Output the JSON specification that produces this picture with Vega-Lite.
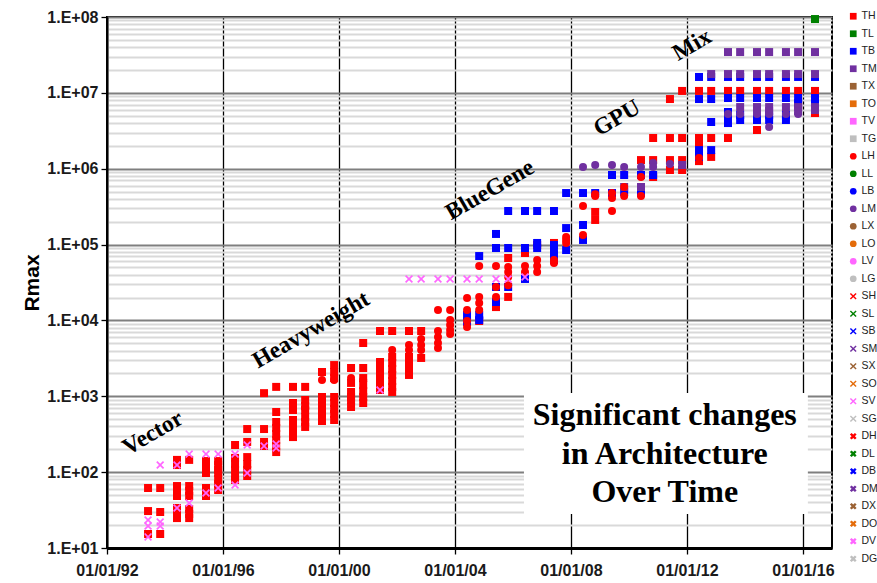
{
"$schema":"https://vega.github.io/schema/vega-lite/v6.json",
"width":725,"height":531,"autosize":"none",
"padding":{"left":107,"top":17,"right":45,"bottom":35},
"background":"white",
"config":{"view":{"stroke":"black","strokeWidth":2}},
"datasets":{
"box":[{"x1":"2006-05-19","x2":"2016-03-03","y1":1104,"y2":28.1}],
"note":[{"text":"Significant changes\nin Architecture\nOver Time","date":"2011-03-28","rmax":418}],
"eras":[{"label":"Vector","date":"1993-08-01","rmax":328},{"label":"Heavyweight","date":"1999-01-13","rmax":7480},{"label":"BlueGene","date":"2005-03-17","rmax":523000},{"label":"GPU","date":"2009-08-01","rmax":4660000},{"label":"Mix","date":"2012-03-04","rmax":42700000}],
"pts":[
{"date":"1993-06-01","cat":"TH","rmax":61.8},{"date":"1993-06-01","cat":"TH","rmax":30.7},{"date":"1993-06-01","cat":"TH","rmax":15.3},
{"date":"1993-11-01","cat":"TH","rmax":61.8},{"date":"1993-11-01","cat":"TH","rmax":29.8},{"date":"1993-11-01","cat":"TH","rmax":15.3},
{"date":"1994-06-01","cat":"TH","rmax":145},{"date":"1994-06-01","cat":"TH","rmax":124},{"date":"1994-06-01","cat":"TH","rmax":65.6},{"date":"1994-06-01","cat":"TH","rmax":56.4},{"date":"1994-06-01","cat":"TH","rmax":48.5},{"date":"1994-06-01","cat":"TH","rmax":33.7},{"date":"1994-06-01","cat":"TH","rmax":28.9},{"date":"1994-06-01","cat":"TH","rmax":24.8},
{"date":"1994-11-01","cat":"TH","rmax":145},{"date":"1994-11-01","cat":"TH","rmax":65.6},{"date":"1994-11-01","cat":"TH","rmax":56.4},{"date":"1994-11-01","cat":"TH","rmax":48.5},{"date":"1994-11-01","cat":"TH","rmax":32.7},{"date":"1994-11-01","cat":"TH","rmax":28.1},{"date":"1994-11-01","cat":"TH","rmax":24.8},
{"date":"1995-06-01","cat":"TH","rmax":140},{"date":"1995-06-01","cat":"TH","rmax":117},{"date":"1995-06-01","cat":"TH","rmax":107},{"date":"1995-06-01","cat":"TH","rmax":97.4},{"date":"1995-06-01","cat":"TH","rmax":61.8},{"date":"1995-06-01","cat":"TH","rmax":53.1},{"date":"1995-06-01","cat":"TH","rmax":48.5},
{"date":"1995-11-01","cat":"TH","rmax":140},{"date":"1995-11-01","cat":"TH","rmax":124},{"date":"1995-11-01","cat":"TH","rmax":107},{"date":"1995-11-01","cat":"TH","rmax":97.4},{"date":"1995-11-01","cat":"TH","rmax":81.2},{"date":"1995-11-01","cat":"TH","rmax":69.8},{"date":"1995-11-01","cat":"TH","rmax":58.1},
{"date":"1996-06-01","cat":"TH","rmax":228},{"date":"1996-06-01","cat":"TH","rmax":154},{"date":"1996-06-01","cat":"TH","rmax":128},{"date":"1996-06-01","cat":"TH","rmax":107},{"date":"1996-06-01","cat":"TH","rmax":88.9},{"date":"1996-06-01","cat":"TH","rmax":78.8},
{"date":"1996-11-01","cat":"TH","rmax":370},{"date":"1996-11-01","cat":"TH","rmax":250},{"date":"1996-11-01","cat":"TH","rmax":158},{"date":"1996-11-01","cat":"TH","rmax":128},{"date":"1996-11-01","cat":"TH","rmax":107},{"date":"1996-11-01","cat":"TH","rmax":88.9},
{"date":"1997-06-01","cat":"TH","rmax":1100},{"date":"1997-06-01","cat":"TH","rmax":370},{"date":"1997-06-01","cat":"TH","rmax":250},{"date":"1997-06-01","cat":"TH","rmax":221},
{"date":"1997-11-01","cat":"TH","rmax":1330},{"date":"1997-11-01","cat":"TH","rmax":621},{"date":"1997-11-01","cat":"TH","rmax":458},{"date":"1997-11-01","cat":"TH","rmax":382},{"date":"1997-11-01","cat":"TH","rmax":318},{"date":"1997-11-01","cat":"TH","rmax":265},{"date":"1997-11-01","cat":"TH","rmax":221},{"date":"1997-11-01","cat":"TH","rmax":184},
{"date":"1998-06-01","cat":"TH","rmax":1330},{"date":"1998-06-01","cat":"TH","rmax":815},{"date":"1998-06-01","cat":"TH","rmax":660},{"date":"1998-06-01","cat":"TH","rmax":487},{"date":"1998-06-01","cat":"TH","rmax":406},{"date":"1998-06-01","cat":"TH","rmax":338},{"date":"1998-06-01","cat":"TH","rmax":290},
{"date":"1998-11-01","cat":"TH","rmax":1330},{"date":"1998-11-01","cat":"TH","rmax":893},{"date":"1998-11-01","cat":"TH","rmax":744},{"date":"1998-11-01","cat":"TH","rmax":660},{"date":"1998-11-01","cat":"TH","rmax":533},{"date":"1998-11-01","cat":"TH","rmax":458},{"date":"1998-11-01","cat":"TH","rmax":394},
{"date":"1999-06-01","cat":"TH","rmax":2090},{"date":"1999-06-01","cat":"TH","rmax":978},{"date":"1999-06-01","cat":"TH","rmax":815},{"date":"1999-06-01","cat":"TH","rmax":680},{"date":"1999-06-01","cat":"TH","rmax":566},{"date":"1999-06-01","cat":"TH","rmax":472},
{"date":"1999-11-01","cat":"TH","rmax":2580},{"date":"1999-11-01","cat":"TH","rmax":2090},{"date":"1999-11-01","cat":"TH","rmax":1740},{"date":"1999-11-01","cat":"TH","rmax":978},{"date":"1999-11-01","cat":"TH","rmax":815},{"date":"1999-11-01","cat":"TH","rmax":680},{"date":"1999-11-01","cat":"TH","rmax":584},{"date":"1999-11-01","cat":"TH","rmax":487},
{"date":"2000-06-01","cat":"TH","rmax":2360},{"date":"2000-06-01","cat":"TH","rmax":1500},{"date":"2000-06-01","cat":"TH","rmax":1140},{"date":"2000-06-01","cat":"TH","rmax":978},{"date":"2000-06-01","cat":"TH","rmax":893},{"date":"2000-06-01","cat":"TH","rmax":722},
{"date":"2000-11-01","cat":"TH","rmax":5040},{"date":"2000-11-01","cat":"TH","rmax":2360},{"date":"2000-11-01","cat":"TH","rmax":1740},{"date":"2000-11-01","cat":"TH","rmax":1410},{"date":"2000-11-01","cat":"TH","rmax":1170},{"date":"2000-11-01","cat":"TH","rmax":978},{"date":"2000-11-01","cat":"TH","rmax":815},
{"date":"2001-06-01","cat":"TH","rmax":7250},{"date":"2001-06-01","cat":"TH","rmax":2830},{"date":"2001-06-01","cat":"TH","rmax":2360},{"date":"2001-06-01","cat":"TH","rmax":1970},{"date":"2001-06-01","cat":"TH","rmax":1640},{"date":"2001-06-01","cat":"TH","rmax":1370},{"date":"2001-06-01","cat":"TH","rmax":1210},
{"date":"2001-11-01","cat":"TH","rmax":7250},{"date":"2001-11-01","cat":"TH","rmax":3300},{"date":"2001-11-01","cat":"TH","rmax":2750},{"date":"2001-11-01","cat":"TH","rmax":2290},{"date":"2001-11-01","cat":"TH","rmax":1910},{"date":"2001-11-01","cat":"TH","rmax":1590},{"date":"2001-11-01","cat":"TH","rmax":1330},{"date":"2001-11-01","cat":"TH","rmax":1140},
{"date":"2002-06-01","cat":"TH","rmax":7250},{"date":"2002-06-01","cat":"TH","rmax":3300},{"date":"2002-06-01","cat":"TH","rmax":2750},{"date":"2002-06-01","cat":"TH","rmax":2290},{"date":"2002-06-01","cat":"TH","rmax":1910},
{"date":"2002-11-01","cat":"TH","rmax":7250},{"date":"2002-11-01","cat":"TH","rmax":3200},
{"date":"2004-11-01","cat":"TH","rmax":9820},{"date":"2005-06-01","cat":"TH","rmax":15000},{"date":"2005-11-01","cat":"TH","rmax":66500},{"date":"2005-11-01","cat":"TH","rmax":20400},
{"date":"2006-06-01","cat":"TH","rmax":77400},{"date":"2006-11-01","cat":"TH","rmax":98600},{"date":"2007-06-01","cat":"TH","rmax":105000},
{"date":"2008-11-01","cat":"TH","rmax":269000},{"date":"2008-11-01","cat":"TH","rmax":211000},
{"date":"2010-06-01","cat":"TH","rmax":1300000},
{"date":"2010-11-01","cat":"TH","rmax":2540000},{"date":"2010-11-01","cat":"TH","rmax":1300000},{"date":"2010-11-01","cat":"TH","rmax":778000},
{"date":"2011-06-01","cat":"TH","rmax":8290000},{"date":"2011-06-01","cat":"TH","rmax":2540000},{"date":"2011-06-01","cat":"TH","rmax":1300000},{"date":"2011-06-01","cat":"TH","rmax":962000},
{"date":"2011-11-01","cat":"TH","rmax":10600000},{"date":"2011-11-01","cat":"TH","rmax":2540000},{"date":"2011-11-01","cat":"TH","rmax":1300000},{"date":"2011-11-01","cat":"TH","rmax":962000},
{"date":"2012-06-01","cat":"TH","rmax":10600000},{"date":"2012-06-01","cat":"TH","rmax":2540000},{"date":"2012-06-01","cat":"TH","rmax":2050000},{"date":"2012-06-01","cat":"TH","rmax":1260000},
{"date":"2012-11-01","cat":"TH","rmax":10600000},{"date":"2012-11-01","cat":"TH","rmax":2540000},{"date":"2012-11-01","cat":"TH","rmax":1430000},
{"date":"2013-06-01","cat":"TH","rmax":10600000},{"date":"2013-06-01","cat":"TH","rmax":2540000},
{"date":"2013-11-01","cat":"TH","rmax":10600000},
{"date":"2014-06-01","cat":"TH","rmax":10600000},{"date":"2014-06-01","cat":"TH","rmax":3240000},
{"date":"2014-11-01","cat":"TH","rmax":10600000},{"date":"2015-06-01","cat":"TH","rmax":10600000},
{"date":"2015-11-01","cat":"TH","rmax":10600000},{"date":"2015-11-01","cat":"TH","rmax":7000000},
{"date":"2016-06-01","cat":"TH","rmax":10600000},{"date":"2016-06-01","cat":"TH","rmax":5420000},
{"date":"2016-06-01","cat":"TL","rmax":94000000},
{"date":"2004-06-01","cat":"TB","rmax":11800},{"date":"2004-06-01","cat":"TB","rmax":9530},
{"date":"2004-11-01","cat":"TB","rmax":70600},{"date":"2004-11-01","cat":"TB","rmax":11800},{"date":"2004-11-01","cat":"TB","rmax":10100},
{"date":"2005-06-01","cat":"TB","rmax":138000},{"date":"2005-06-01","cat":"TB","rmax":90100},{"date":"2005-06-01","cat":"TB","rmax":27600},{"date":"2005-06-01","cat":"TB","rmax":17500},
{"date":"2005-11-01","cat":"TB","rmax":277000},{"date":"2005-11-01","cat":"TB","rmax":90100},{"date":"2005-11-01","cat":"TB","rmax":27600},
{"date":"2006-06-01","cat":"TB","rmax":277000},{"date":"2006-06-01","cat":"TB","rmax":90100},{"date":"2006-06-01","cat":"TB","rmax":35200},
{"date":"2006-11-01","cat":"TB","rmax":277000},{"date":"2006-11-01","cat":"TB","rmax":105000},{"date":"2006-11-01","cat":"TB","rmax":90100},
{"date":"2007-06-01","cat":"TB","rmax":277000},{"date":"2007-06-01","cat":"TB","rmax":98600},{"date":"2007-06-01","cat":"TB","rmax":84700},{"date":"2007-06-01","cat":"TB","rmax":72800},{"date":"2007-06-01","cat":"TB","rmax":62500},
{"date":"2007-11-01","cat":"TB","rmax":478000},{"date":"2007-11-01","cat":"TB","rmax":165000},{"date":"2007-11-01","cat":"TB","rmax":84700},
{"date":"2008-06-01","cat":"TB","rmax":478000},{"date":"2008-06-01","cat":"TB","rmax":181000},{"date":"2008-06-01","cat":"TB","rmax":115000},
{"date":"2008-11-01","cat":"TB","rmax":478000},
{"date":"2009-06-01","cat":"TB","rmax":826000},{"date":"2009-06-01","cat":"TB","rmax":478000},
{"date":"2009-11-01","cat":"TB","rmax":826000},{"date":"2009-11-01","cat":"TB","rmax":493000},
{"date":"2010-06-01","cat":"TB","rmax":826000},{"date":"2010-06-01","cat":"TB","rmax":478000},
{"date":"2010-11-01","cat":"TB","rmax":826000},
{"date":"2012-06-01","cat":"TB","rmax":16200000},{"date":"2012-06-01","cat":"TB","rmax":8290000},{"date":"2012-06-01","cat":"TB","rmax":1760000},{"date":"2012-06-01","cat":"TB","rmax":1430000},
{"date":"2012-11-01","cat":"TB","rmax":16200000},{"date":"2012-11-01","cat":"TB","rmax":8290000},{"date":"2012-11-01","cat":"TB","rmax":4130000},{"date":"2012-11-01","cat":"TB","rmax":1760000},
{"date":"2013-06-01","cat":"TB","rmax":16200000},{"date":"2013-06-01","cat":"TB","rmax":8550000},{"date":"2013-06-01","cat":"TB","rmax":5590000},{"date":"2013-06-01","cat":"TB","rmax":4800000},{"date":"2013-06-01","cat":"TB","rmax":4000000},
{"date":"2013-11-01","cat":"TB","rmax":16200000},{"date":"2013-11-01","cat":"TB","rmax":8550000},{"date":"2013-11-01","cat":"TB","rmax":5100000},{"date":"2013-11-01","cat":"TB","rmax":4390000},
{"date":"2014-06-01","cat":"TB","rmax":16200000},{"date":"2014-06-01","cat":"TB","rmax":8550000},{"date":"2014-06-01","cat":"TB","rmax":5100000},{"date":"2014-06-01","cat":"TB","rmax":4390000},
{"date":"2014-11-01","cat":"TB","rmax":16200000},{"date":"2014-11-01","cat":"TB","rmax":8550000},{"date":"2014-11-01","cat":"TB","rmax":5100000},{"date":"2014-11-01","cat":"TB","rmax":4390000},
{"date":"2015-06-01","cat":"TB","rmax":16200000},{"date":"2015-06-01","cat":"TB","rmax":8550000},{"date":"2015-06-01","cat":"TB","rmax":5100000},{"date":"2015-06-01","cat":"TB","rmax":4390000},
{"date":"2015-11-01","cat":"TB","rmax":16200000},{"date":"2015-11-01","cat":"TB","rmax":8550000},{"date":"2015-11-01","cat":"TB","rmax":7340000},
{"date":"2016-06-01","cat":"TB","rmax":16200000},{"date":"2016-06-01","cat":"TB","rmax":8550000},{"date":"2016-06-01","cat":"TB","rmax":7340000},
{"date":"2009-11-01","cat":"TM","rmax":574000},{"date":"2010-06-01","cat":"TM","rmax":574000},{"date":"2011-11-01","cat":"TM","rmax":1120000},
{"date":"2012-11-01","cat":"TM","rmax":17700000},
{"date":"2013-06-01","cat":"TM","rmax":34500000},{"date":"2013-06-01","cat":"TM","rmax":17700000},
{"date":"2013-11-01","cat":"TM","rmax":34500000},{"date":"2013-11-01","cat":"TM","rmax":17700000},{"date":"2013-11-01","cat":"TM","rmax":6500000},
{"date":"2014-06-01","cat":"TM","rmax":34500000},{"date":"2014-06-01","cat":"TM","rmax":17700000},{"date":"2014-06-01","cat":"TM","rmax":6500000},{"date":"2014-06-01","cat":"TM","rmax":5760000},
{"date":"2014-11-01","cat":"TM","rmax":34500000},{"date":"2014-11-01","cat":"TM","rmax":17700000},{"date":"2014-11-01","cat":"TM","rmax":6500000},{"date":"2014-11-01","cat":"TM","rmax":5760000},
{"date":"2015-06-01","cat":"TM","rmax":34500000},{"date":"2015-06-01","cat":"TM","rmax":17700000},{"date":"2015-06-01","cat":"TM","rmax":6500000},
{"date":"2015-11-01","cat":"TM","rmax":34500000},{"date":"2015-11-01","cat":"TM","rmax":17700000},{"date":"2015-11-01","cat":"TM","rmax":6500000},{"date":"2015-11-01","cat":"TM","rmax":5760000},
{"date":"2016-06-01","cat":"TM","rmax":34500000},{"date":"2016-06-01","cat":"TM","rmax":17700000},{"date":"2016-06-01","cat":"TM","rmax":6500000},{"date":"2016-06-01","cat":"TM","rmax":5940000},
{"date":"1998-11-01","cat":"LH","rmax":700},{"date":"1999-06-01","cat":"LH","rmax":1640},{"date":"1999-11-01","cat":"LH","rmax":1640},{"date":"2000-06-01","cat":"LH","rmax":1740},{"date":"2000-11-01","cat":"LH","rmax":1640},
{"date":"2001-11-01","cat":"LH","rmax":4070},
{"date":"2002-06-01","cat":"LH","rmax":4740},{"date":"2002-06-01","cat":"LH","rmax":4070},
{"date":"2002-11-01","cat":"LH","rmax":5690},{"date":"2002-11-01","cat":"LH","rmax":4740},{"date":"2002-11-01","cat":"LH","rmax":4070},
{"date":"2003-06-01","cat":"LH","rmax":13700},{"date":"2003-06-01","cat":"LH","rmax":7250},{"date":"2003-06-01","cat":"LH","rmax":6040},{"date":"2003-06-01","cat":"LH","rmax":5040},{"date":"2003-06-01","cat":"LH","rmax":4330},
{"date":"2003-11-01","cat":"LH","rmax":13700},{"date":"2003-11-01","cat":"LH","rmax":10100},{"date":"2003-11-01","cat":"LH","rmax":8700},{"date":"2003-11-01","cat":"LH","rmax":7480},{"date":"2003-11-01","cat":"LH","rmax":6620},
{"date":"2004-06-01","cat":"LH","rmax":19700},{"date":"2004-06-01","cat":"LH","rmax":13700},{"date":"2004-06-01","cat":"LH","rmax":9820},{"date":"2004-06-01","cat":"LH","rmax":8180},
{"date":"2004-11-01","cat":"LH","rmax":52200},{"date":"2004-11-01","cat":"LH","rmax":20400},{"date":"2004-11-01","cat":"LH","rmax":17000},{"date":"2004-11-01","cat":"LH","rmax":13700},
{"date":"2005-06-01","cat":"LH","rmax":52200},{"date":"2005-06-01","cat":"LH","rmax":27600},{"date":"2005-06-01","cat":"LH","rmax":20400},
{"date":"2005-11-01","cat":"LH","rmax":50600},{"date":"2005-11-01","cat":"LH","rmax":43500},{"date":"2005-11-01","cat":"LH","rmax":37300},{"date":"2005-11-01","cat":"LH","rmax":29000},
{"date":"2006-06-01","cat":"LH","rmax":52200},{"date":"2006-06-01","cat":"LH","rmax":43500},
{"date":"2006-11-01","cat":"LH","rmax":62500},{"date":"2006-11-01","cat":"LH","rmax":52200},{"date":"2006-11-01","cat":"LH","rmax":43500},
{"date":"2007-06-01","cat":"LH","rmax":62500},{"date":"2007-06-01","cat":"LH","rmax":57100},
{"date":"2007-11-01","cat":"LH","rmax":126000},{"date":"2007-11-01","cat":"LH","rmax":115000},{"date":"2007-11-01","cat":"LH","rmax":105000},
{"date":"2008-06-01","cat":"LH","rmax":322000},{"date":"2008-06-01","cat":"LH","rmax":134000},
{"date":"2008-11-01","cat":"LH","rmax":460000},{"date":"2008-11-01","cat":"LH","rmax":437000},
{"date":"2009-06-01","cat":"LH","rmax":478000},{"date":"2009-06-01","cat":"LH","rmax":411000},{"date":"2009-06-01","cat":"LH","rmax":277000},
{"date":"2009-11-01","cat":"LH","rmax":574000},{"date":"2009-11-01","cat":"LH","rmax":437000},
{"date":"2010-06-01","cat":"LH","rmax":778000},{"date":"2010-06-01","cat":"LH","rmax":437000},
{"date":"2012-06-01","cat":"LH","rmax":1380000},
{"date":"2008-06-01","cat":"LM","rmax":1050000},{"date":"2008-11-01","cat":"LM","rmax":1120000},{"date":"2009-06-01","cat":"LM","rmax":1120000},{"date":"2009-11-01","cat":"LM","rmax":1050000},{"date":"2010-06-01","cat":"LM","rmax":1050000},
{"date":"2010-11-01","cat":"LM","rmax":1190000},{"date":"2010-11-01","cat":"LM","rmax":1050000},{"date":"2011-06-01","cat":"LM","rmax":1150000},
{"date":"2013-06-01","cat":"LM","rmax":5260000},{"date":"2013-11-01","cat":"LM","rmax":5260000},{"date":"2014-06-01","cat":"LM","rmax":5260000},
{"date":"2014-11-01","cat":"LM","rmax":5260000},{"date":"2014-11-01","cat":"LM","rmax":3550000},
{"date":"2015-06-01","cat":"LM","rmax":5260000},{"date":"2015-11-01","cat":"LM","rmax":5260000},
{"date":"1993-06-01","cat":"SV","rmax":23.4},{"date":"1993-06-01","cat":"SV","rmax":19.5},{"date":"1993-06-01","cat":"SV","rmax":14.0},
{"date":"1993-11-01","cat":"SV","rmax":124},{"date":"1993-11-01","cat":"SV","rmax":22.0},{"date":"1993-11-01","cat":"SV","rmax":19.5},
{"date":"1994-06-01","cat":"SV","rmax":124},{"date":"1994-06-01","cat":"SV","rmax":33.7},
{"date":"1994-11-01","cat":"SV","rmax":173},{"date":"1994-11-01","cat":"SV","rmax":39.2},
{"date":"1995-06-01","cat":"SV","rmax":173},{"date":"1995-06-01","cat":"SV","rmax":53.1},
{"date":"1995-11-01","cat":"SV","rmax":173},{"date":"1995-11-01","cat":"SV","rmax":61.8},
{"date":"1996-06-01","cat":"SV","rmax":173},{"date":"1996-06-01","cat":"SV","rmax":67.6},
{"date":"1996-11-01","cat":"SV","rmax":228},{"date":"1996-11-01","cat":"SV","rmax":97.4},
{"date":"1997-06-01","cat":"SV","rmax":221},
{"date":"1997-11-01","cat":"SV","rmax":235},{"date":"1997-11-01","cat":"SV","rmax":208},
{"date":"2001-06-01","cat":"SV","rmax":1210},
{"date":"2002-06-01","cat":"SV","rmax":35200},{"date":"2002-11-01","cat":"SV","rmax":35200},{"date":"2003-06-01","cat":"SV","rmax":35200},{"date":"2003-11-01","cat":"SV","rmax":35200},
{"date":"2004-06-01","cat":"SV","rmax":35200},{"date":"2004-11-01","cat":"SV","rmax":35200},{"date":"2005-06-01","cat":"SV","rmax":35200},{"date":"2005-11-01","cat":"SV","rmax":35200},{"date":"2006-06-01","cat":"SV","rmax":37300}
]},
"layer":[
{"data":{"name":"pts"},"mark":{"type":"point","filled":true,"size":64,"opacity":1,"strokeWidth":0},
 "encoding":{
  "x":{"field":"date","type":"temporal","title":null,"scale":{"type":"utc","domain":[{"year":1992,"month":1,"date":1,"utc":true},{"year":2017,"month":1,"date":1,"utc":true}],"nice":false},
   "axis":{"title":null,"values":[{"year":1992,"month":1,"date":1,"utc":true},{"year":1996,"month":1,"date":1,"utc":true},{"year":2000,"month":1,"date":1,"utc":true},{"year":2004,"month":1,"date":1,"utc":true},{"year":2008,"month":1,"date":1,"utc":true},{"year":2012,"month":1,"date":1,"utc":true},{"year":2016,"month":1,"date":1,"utc":true}],
    "format":"%m/%d/%y","labelFont":"Liberation Sans","labelFontWeight":"bold","labelFontSize":16,"labelColor":"#1a1a1a","labelPadding":8,"labelFlush":false,"labelOverlap":false,
    "grid":true,"gridColor":"black","gridWidth":1.3,"domainColor":"black","domainWidth":3,"tickColor":"black","tickSize":6,"tickWidth":1.3}},
  "y":{"field":"rmax","type":"quantitative","title":"Rmax","scale":{"type":"log","domain":[10,100000000],"nice":false},
   "axis":{"title":"Rmax","titleFont":"Liberation Sans","titleFontSize":21,"titleFontWeight":"bold","titleColor":"black","titlePadding":4,
    "values":[10,20,30,40,50,60,70,80,90,100,200,300,400,500,600,700,800,900,1000,2000,3000,4000,5000,6000,7000,8000,9000,10000,20000,30000,40000,50000,60000,70000,80000,90000,100000,200000,300000,400000,500000,600000,700000,800000,900000,1000000,2000000,3000000,4000000,5000000,6000000,7000000,8000000,9000000,10000000,20000000,30000000,40000000,50000000,60000000,70000000,80000000,90000000,100000000],
    "labelExpr":"abs(log(datum.value)/LN10 - round(log(datum.value)/LN10)) < 0.001 ? '1.E+0' + round(log(datum.value)/LN10) : ''",
    "labelFont":"Liberation Sans","labelFontWeight":"bold","labelFontSize":16,"labelColor":"#1a1a1a","labelPadding":3,"labelOverlap":false,"labelBound":false,"labelFlush":false,
    "grid":true,"gridWidth":2,
    "gridColor":{"condition":{"test":"abs(log(datum.value)/LN10 - round(log(datum.value)/LN10)) < 0.001","value":"#7f7f7f"},"value":"#d9d9d9"},
    "tickOpacity":{"condition":{"test":"abs(log(datum.value)/LN10 - round(log(datum.value)/LN10)) < 0.001","value":1},"value":0},
    "domainColor":"black","domainWidth":2,"tickColor":"black","tickSize":6,"tickWidth":1.3}},
  "color":{"field":"cat","type":"nominal",
   "scale":{"domain":["TH","TL","TB","TM","TX","TO","TV","TG","LH","LL","LB","LM","LX","LO","LV","LG","SH","SL","SB","SM","SX","SO","SV","SG","DH","DL","DB","DM","DX","DO","DV","DG"],
    "range":["#ff0000","#008000","#0000ff","#7030a0","#9b6234","#e46c0a","#ff66ff","#bfbfbf","#ff0000","#008000","#0000ff","#7030a0","#9b6234","#e46c0a","#ff66ff","#bfbfbf","#ff0000","#008000","#0000ff","#7030a0","#9b6234","#e46c0a","#ff66ff","#bfbfbf","#ff0000","#008000","#0000ff","#7030a0","#9b6234","#e46c0a","#ff66ff","#bfbfbf"]},
   "legend":{"title":null,"orient":"none","legendX":741,"legendY":-6,"padding":0,"labelFont":"Liberation Sans","labelFontSize":10.5,"labelColor":"#222222","symbolSize":45,"rowPadding":6.5,"symbolLimit":40,"labelLimit":40,"labelOffset":3,"symbolStrokeWidth":0}},
  "shape":{"field":"cat","type":"nominal",
   "scale":{"domain":["TH","TL","TB","TM","TX","TO","TV","TG","LH","LL","LB","LM","LX","LO","LV","LG","SH","SL","SB","SM","SX","SO","SV","SG","DH","DL","DB","DM","DX","DO","DV","DG"],
    "range":["square","square","square","square","square","square","square","square","circle","circle","circle","circle","circle","circle","circle","circle",
     "M-1,-0.7L-0.7,-1L0,-0.3L0.7,-1L1,-0.7L0.3,0L1,0.7L0.7,1L0,0.3L-0.7,1L-1,0.7L-0.3,0Z","M-1,-0.7L-0.7,-1L0,-0.3L0.7,-1L1,-0.7L0.3,0L1,0.7L0.7,1L0,0.3L-0.7,1L-1,0.7L-0.3,0Z","M-1,-0.7L-0.7,-1L0,-0.3L0.7,-1L1,-0.7L0.3,0L1,0.7L0.7,1L0,0.3L-0.7,1L-1,0.7L-0.3,0Z","M-1,-0.7L-0.7,-1L0,-0.3L0.7,-1L1,-0.7L0.3,0L1,0.7L0.7,1L0,0.3L-0.7,1L-1,0.7L-0.3,0Z","M-1,-0.7L-0.7,-1L0,-0.3L0.7,-1L1,-0.7L0.3,0L1,0.7L0.7,1L0,0.3L-0.7,1L-1,0.7L-0.3,0Z","M-1,-0.7L-0.7,-1L0,-0.3L0.7,-1L1,-0.7L0.3,0L1,0.7L0.7,1L0,0.3L-0.7,1L-1,0.7L-0.3,0Z","M-1,-0.7L-0.7,-1L0,-0.3L0.7,-1L1,-0.7L0.3,0L1,0.7L0.7,1L0,0.3L-0.7,1L-1,0.7L-0.3,0Z","M-1,-0.7L-0.7,-1L0,-0.3L0.7,-1L1,-0.7L0.3,0L1,0.7L0.7,1L0,0.3L-0.7,1L-1,0.7L-0.3,0Z",
     "M-1,-0.5L-0.5,-1L0,-0.5L0.5,-1L1,-0.5L0.5,0L1,0.5L0.5,1L0,0.5L-0.5,1L-1,0.5L-0.5,0Z","M-1,-0.5L-0.5,-1L0,-0.5L0.5,-1L1,-0.5L0.5,0L1,0.5L0.5,1L0,0.5L-0.5,1L-1,0.5L-0.5,0Z","M-1,-0.5L-0.5,-1L0,-0.5L0.5,-1L1,-0.5L0.5,0L1,0.5L0.5,1L0,0.5L-0.5,1L-1,0.5L-0.5,0Z","M-1,-0.5L-0.5,-1L0,-0.5L0.5,-1L1,-0.5L0.5,0L1,0.5L0.5,1L0,0.5L-0.5,1L-1,0.5L-0.5,0Z","M-1,-0.5L-0.5,-1L0,-0.5L0.5,-1L1,-0.5L0.5,0L1,0.5L0.5,1L0,0.5L-0.5,1L-1,0.5L-0.5,0Z","M-1,-0.5L-0.5,-1L0,-0.5L0.5,-1L1,-0.5L0.5,0L1,0.5L0.5,1L0,0.5L-0.5,1L-1,0.5L-0.5,0Z","M-1,-0.5L-0.5,-1L0,-0.5L0.5,-1L1,-0.5L0.5,0L1,0.5L0.5,1L0,0.5L-0.5,1L-1,0.5L-0.5,0Z","M-1,-0.5L-0.5,-1L0,-0.5L0.5,-1L1,-0.5L0.5,0L1,0.5L0.5,1L0,0.5L-0.5,1L-1,0.5L-0.5,0Z"]},
   "legend":{"title":null,"orient":"none","legendX":741,"legendY":-6,"padding":0,"labelFont":"Liberation Sans","labelFontSize":10.5,"labelColor":"#222222","symbolSize":45,"rowPadding":6.5,"symbolLimit":40,"labelLimit":40,"labelOffset":3,"symbolStrokeWidth":0}}
 }},
{"data":{"name":"box"},"mark":{"type":"rect","fill":"white"},
 "encoding":{
  "x":{"field":"x1","type":"temporal","title":null},
  "x2":{"field":"x2"},
  "y":{"field":"y1","type":"quantitative","title":"Rmax"},
  "y2":{"field":"y2"}}},
{"data":{"name":"eras"},"mark":{"type":"text","angle":330,"font":"Liberation Serif","fontWeight":"bold","fontSize":23.5,"align":"center","baseline":"middle","color":"black"},
 "encoding":{
  "x":{"field":"date","type":"temporal","title":null},
  "y":{"field":"rmax","type":"quantitative","title":"Rmax"},
  "text":{"field":"label"}}},
{"data":{"name":"note"},"mark":{"type":"text","font":"Liberation Serif","fontWeight":"bold","fontSize":32,"lineHeight":38.5,"lineBreak":"\n","align":"center","baseline":"alphabetic","color":"black"},
 "encoding":{
  "x":{"field":"date","type":"temporal","title":null},
  "y":{"field":"rmax","type":"quantitative","title":"Rmax"},
  "text":{"field":"text"}}}
]
}
